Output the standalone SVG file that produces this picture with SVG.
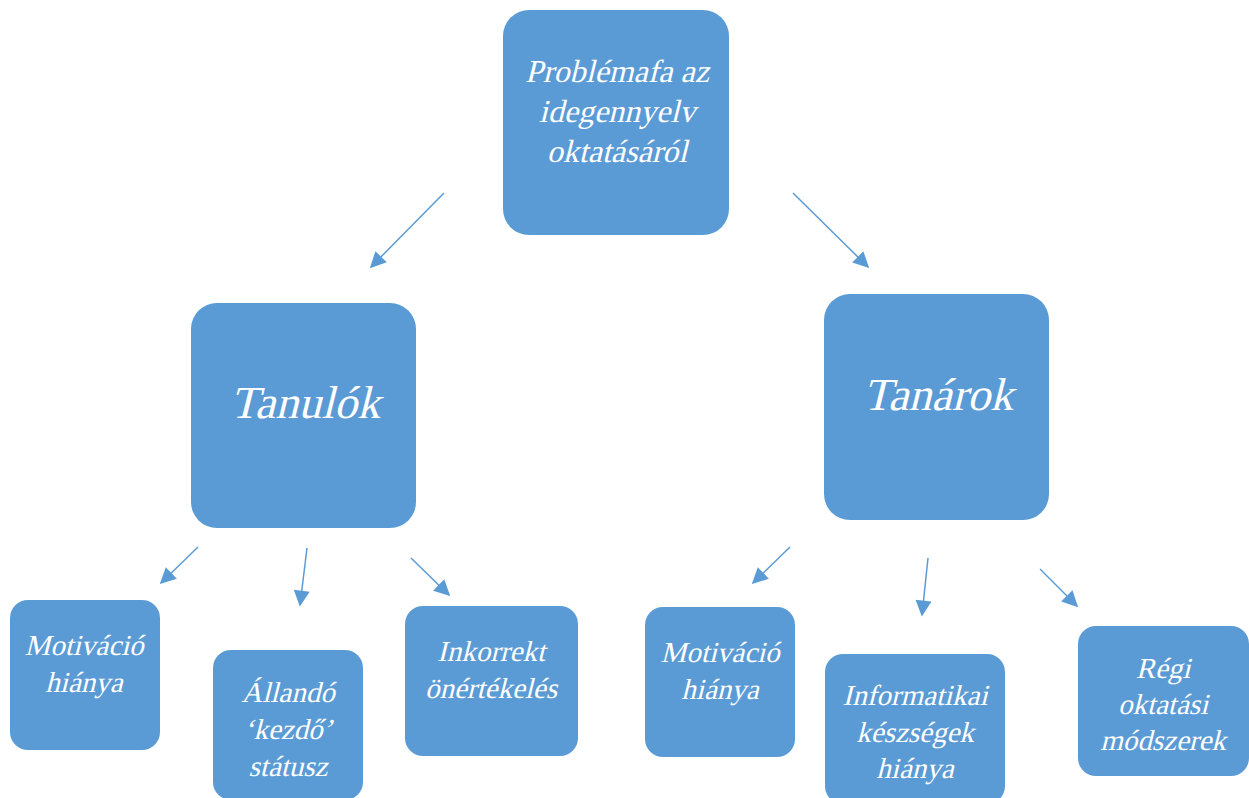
<svg xmlns="http://www.w3.org/2000/svg" width="1249" height="798" viewBox="0 0 1249 798">
<defs>
<marker id="ah" viewBox="0 0 10 10" refX="9" refY="5" markerWidth="18" markerHeight="16" markerUnits="userSpaceOnUse" orient="auto">
<path d="M0,0 L10,5 L0,10 z" fill="#5B9BD5"/>
</marker>
<style>
.box{fill:#5B9BD5;}
.t{fill:#FFFFFF;text-anchor:middle;}
.s{font-size:29px;}
.m{font-size:32px;}
.l{font-size:46px;}
.c{stroke:#5B9BD5;stroke-width:1.5;fill:none;}
</style>
</defs>
<rect width="1249" height="798" fill="#FFFFFF"/>
<g id="connectors">
<line class="c" x1="444" y1="193" x2="371" y2="267" marker-end="url(#ah)"/>
<line class="c" x1="793" y1="193" x2="868" y2="267" marker-end="url(#ah)"/>
<line class="c" x1="198" y1="547" x2="161" y2="583" marker-end="url(#ah)"/>
<line class="c" x1="307" y1="548" x2="300" y2="605" marker-end="url(#ah)"/>
<line class="c" x1="411" y1="558" x2="449" y2="595" marker-end="url(#ah)"/>
<line class="c" x1="790" y1="547" x2="753" y2="583" marker-end="url(#ah)"/>
<line class="c" x1="928" y1="558" x2="922" y2="615" marker-end="url(#ah)"/>
<line class="c" x1="1040" y1="569" x2="1077" y2="606" marker-end="url(#ah)"/>
</g>
<g id="root" font-family="Liberation Serif">
<rect class="box" x="503" y="10" width="226" height="225" rx="26"/>
<text class="t m" transform="translate(617,82) skewX(-14)">Problémafa az</text>
<text class="t m" transform="translate(617,122) skewX(-14)">idegennyelv</text>
<text class="t m" transform="translate(617,162) skewX(-14)">oktatásáról</text>
</g>
<g id="tanulok" font-family="Liberation Serif">
<rect class="box" x="191" y="303" width="225" height="225" rx="26"/>
<text class="t l" transform="translate(305,418) skewX(-14)">Tanulók</text>
</g>
<g id="tanarok" font-family="Liberation Serif">
<rect class="box" x="824" y="294" width="225" height="226" rx="26"/>
<text class="t l" transform="translate(938,410) skewX(-14)">Tanárok</text>
</g>
<g id="motivacio1" font-family="Liberation Serif">
<rect class="box" x="10" y="600" width="150" height="150" rx="18"/>
<text class="t s" transform="translate(84,655) skewX(-14)">Motiváció</text>
<text class="t s" transform="translate(84,692) skewX(-14)">hiánya</text>
</g>
<g id="allando" font-family="Liberation Serif">
<rect class="box" x="213" y="650" width="150" height="150" rx="18"/>
<text class="t s" transform="translate(288,702) skewX(-14)">Állandó</text>
<text class="t s" transform="translate(288,739) skewX(-14)">‘kezdő’</text>
<text class="t s" transform="translate(288,776) skewX(-14)">státusz</text>
</g>
<g id="inkorrekt" font-family="Liberation Serif">
<rect class="box" x="405" y="606" width="173" height="150" rx="18"/>
<text class="t s" transform="translate(491,661) skewX(-14)">Inkorrekt</text>
<text class="t s" transform="translate(491,698) skewX(-14)">önértékelés</text>
</g>
<g id="motivacio2" font-family="Liberation Serif">
<rect class="box" x="645" y="607" width="150" height="150" rx="18"/>
<text class="t s" transform="translate(720,662) skewX(-14)">Motiváció</text>
<text class="t s" transform="translate(720,699) skewX(-14)">hiánya</text>
</g>
<g id="informatikai" font-family="Liberation Serif">
<rect class="box" x="825" y="654" width="180" height="150" rx="18"/>
<text class="t s" transform="translate(915,705) skewX(-14)">Informatikai</text>
<text class="t s" transform="translate(915,742) skewX(-14)">készségek</text>
<text class="t s" transform="translate(915,778) skewX(-14)">hiánya</text>
</g>
<g id="regi" font-family="Liberation Serif">
<rect class="box" x="1078" y="626" width="171" height="150" rx="18"/>
<text class="t s" transform="translate(1163,678) skewX(-14)">Régi</text>
<text class="t s" transform="translate(1163,714) skewX(-14)">oktatási</text>
<text class="t s" transform="translate(1163,750) skewX(-14)">módszerek</text>
</g>
</svg>
